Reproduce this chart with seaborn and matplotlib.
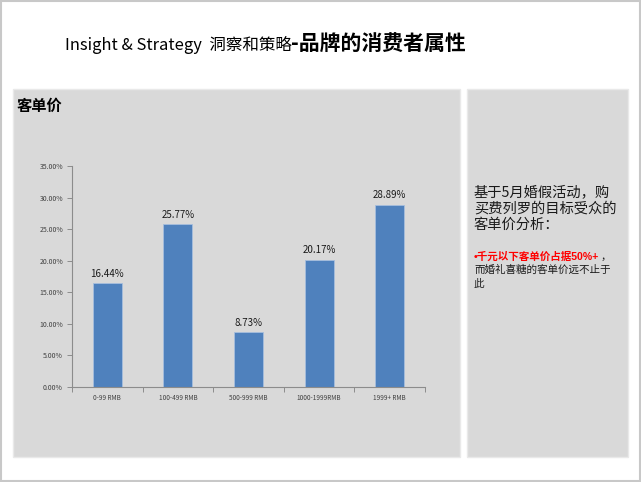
import matplotlib
matplotlib.use("Agg")
import matplotlib.pyplot as plt
from matplotlib.patches import Rectangle
import seaborn as sns
import pandas as pd

categories = ["0-99 RMB", "100-499 RMB", "500-999 RMB", "1000-1999RMB", "1999+ RMB"]
values = [16.44, 25.77, 8.73, 20.17, 28.89]
y_ticks = [0, 5, 10, 15, 20, 25, 30, 35]

title_regular = "Insight & Strategy  洞察和策略"
title_bold = "-品牌的消费者属性"
panel_title = "客单价"
side_lines = ["基于5月婚假活动，购", "买费列罗的目标受众的", "客单价分析："]
side_red = "•千元以下客单价占据50%+"
side_tail = "，"
side_more = ["而婚礼喜糖的客单价远不止于", "此"]

sns.set_theme(style="white")
plt.rcParams['font.family'] = ['Noto Sans CJK SC', 'DejaVu Sans']

W, H = 641, 482
fig = plt.figure(figsize=(W / 100, H / 100), dpi=100)
fig.patch.set_facecolor("white")

def fx(px):
    return px / W

def fy(py):
    return 1 - py / H

# outer border
fig.patches.append(Rectangle((fx(0.8), fy(480.5)), fx(639.4), 479.7 / H, transform=fig.transFigure,
                             facecolor="none", edgecolor="#C8C8C8", linewidth=1.5, zorder=-2))
# panels
fig.patches.append(Rectangle((fx(13), fy(457)), fx(460 - 13), (457 - 89) / H, transform=fig.transFigure,
                             facecolor="#D9D9D9", edgecolor="#E9E9E9", linewidth=1, zorder=-2))
fig.patches.append(Rectangle((fx(467), fy(457)), fx(628 - 467), (457 - 89) / H, transform=fig.transFigure,
                             facecolor="#D9D9D9", edgecolor="#E9E9E9", linewidth=1, zorder=-2))

# title
fig.text(fx(292), fy(50), title_regular, ha="right", va="baseline", fontsize=11.9, color="black")
fig.text(fx(291), fy(50), title_bold, ha="left", va="baseline", fontsize=15, fontweight="bold", color="black")

# panel title
fig.text(fx(17), fy(106), panel_title, ha="left", va="center", fontsize=11, fontweight="bold", color="black")

# chart
ax = fig.add_axes([fx(72), fy(387), fx(425 - 72), (387 - 166) / H])
ax.set_zorder(2)
ax.set_facecolor("none")
df = pd.DataFrame({"cat": categories, "val": values})
sns.barplot(data=df, x="cat", y="val", ax=ax, color="#4F81BD", saturation=1,
            width=0.41, edgecolor="#A7BFDE", linewidth=0.6)
ax.set_xlim(-0.5, len(categories) - 0.5)
ax.set_ylim(0, 35)
ax.set_yticks(y_ticks)
ax.set_yticklabels([f"{t:.2f}%" for t in y_ticks], fontsize=5, color="#404040")
ax.set_xticks(range(len(categories)))
ax.set_xticklabels(categories, fontsize=4.6, color="#404040")
ax.set_xticks([i + 0.5 for i in range(-1, len(categories))], minor=True)
ax.tick_params(axis="x", which="major", length=0, pad=5)
ax.tick_params(axis="x", which="minor", length=3.5, width=0.7, color="#8C8C8C", direction="out", bottom=True)
ax.tick_params(axis="y", which="major", length=3.5, width=0.7, color="#8C8C8C", direction="out", pad=3, left=True)
ax.set_xlabel("")
ax.set_ylabel("")
for s in ["top", "right"]:
    ax.spines[s].set_visible(False)
for s in ["left", "bottom"]:
    ax.spines[s].set_color("#8C8C8C")
    ax.spines[s].set_linewidth(0.8)
ax.grid(False)
ax.bar_label(ax.containers[0], labels=[f"{v:.2f}%" for v in values], padding=3,
             fontsize=7, color="#1A1A1A")

# side text
ys = [192, 209, 225]
for line, y in zip(side_lines, ys):
    fig.text(fx(474), fy(y), line, ha="left", va="center", fontsize=10.3, color="#1A1A1A")

red = fig.text(fx(474), fy(257), side_red, ha="left", va="center", fontsize=7.6,
               fontweight="bold", color="#FF0000",
               family=["Liberation Sans", "Noto Sans CJK SC"])
ax.annotate(side_tail, xy=(1.0, 0.5), xycoords=red, xytext=(1, 0), textcoords="offset points",
            ha="left", va="center", fontsize=7.6, color="#1A1A1A", annotation_clip=False)
for line, y in zip(side_more, [270, 284]):
    fig.text(fx(474), fy(y), line, ha="left", va="center", fontsize=7.6, color="#1A1A1A")

fig.savefig("out.png", dpi=100, facecolor="white")
